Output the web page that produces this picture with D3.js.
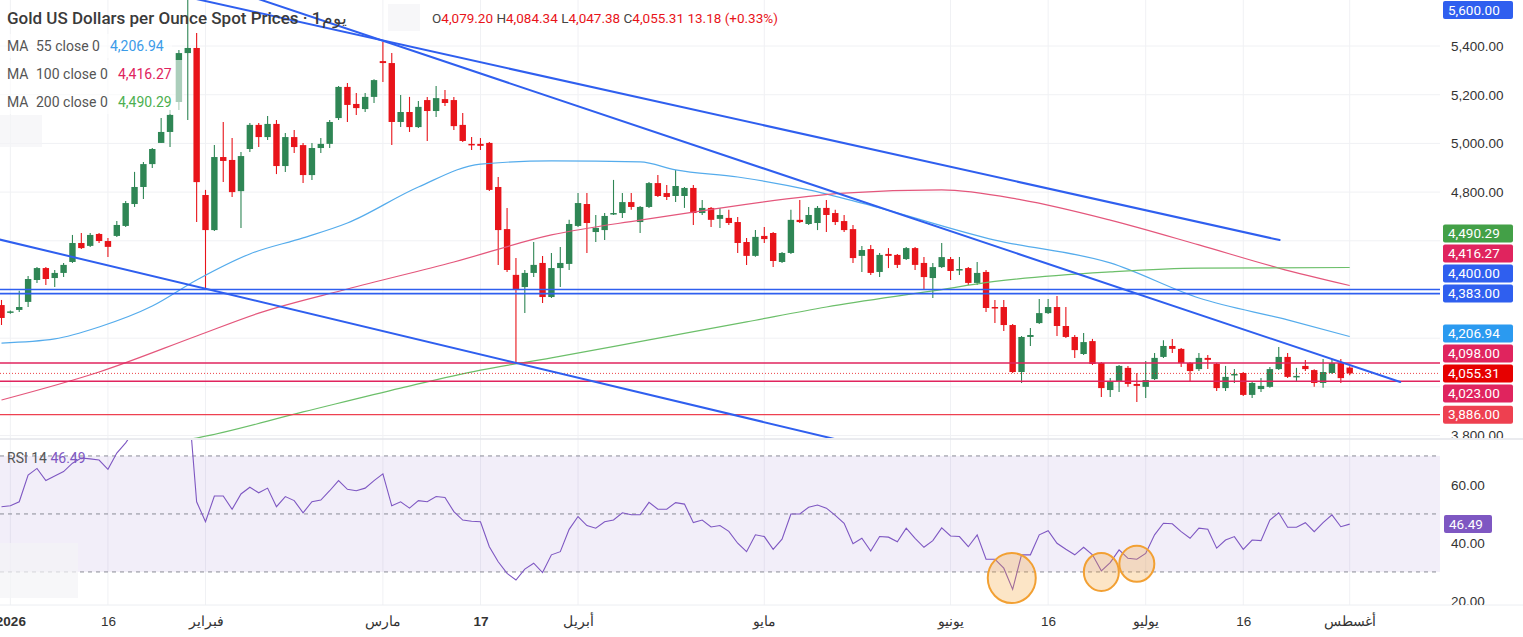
<!DOCTYPE html>
<html>
<head>
<meta charset="utf-8">
<script src="https://cdnjs.cloudflare.com/ajax/libs/d3/7.8.5/d3.min.js"></script>
<style>
  body { margin: 0; background: #ffffff; }
  svg { display: block; font-family: Roboto, "Noto Sans", sans-serif; }
  .axis text { fill: #333; font-size: 13.5px; }
  .axis path { display: none; }
</style>
</head>
<body>
<div id="chart"></div>
<script>
// daily candles, first bar = last trading day of 2025
var opens = [4336,4306,4316,4349,4439,4488,4447,4468,4513,4591,4579,4628,4599,4620,4661,4751,4821,4915,5002,5047,
  5170,5371,5392,4788,4644,4944,4932,4804,4977,5076,5026,5080,4907,5026,4993,4870,4981,4998,5104,5232,
  5162,5141,5191,5338,5330,5088,5129,5067,5178,5133,5182,5178,5076,4998,4998,5002,4821,4648,4460,4410,
  4468,4509,4369,4488,4505,4661,4751,4636,4644,4710,4714,4759,4677,4739,4837,4796,4784,4784,4817,4714,
  4735,4690,4694,4677,4595,4538,4620,4632,4513,4550,4686,4669,4673,4735,4714,4681,4648,4538,4566,4472,
  4546,4542,4525,4570,4509,4447,4492,4525,4480,4488,4427,4472,4328,4328,4254,4061,4205,4262,4303,4328,
  4250,4205,4135,4188,4098,3987,4020,4078,4012,4000,4032,4123,4168,4156,4098,4073,4119,4094,3995,4049,
  4057,3967,3991,4000,4073,4123,4041,4086,4069,4016,4057,4098,4079.20];
var highs = [4357,4314,4395,4455,4492,4492,4480,4509,4624,4632,4632,4632,4611,4681,4763,4883,4924,4981,5104,5137,
  5384,5598,5453,4809,4993,5088,5022,4965,5084,5084,5113,5096,5043,5055,5002,5002,5022,5096,5236,5248,
  5207,5207,5264,5416,5371,5199,5191,5174,5191,5236,5219,5191,5125,5026,5022,5006,4862,4735,4529,4480,
  4595,4538,4550,4575,4686,4796,4796,4706,4714,4850,4796,4796,4743,4841,4870,4829,4891,4821,4829,4768,
  4739,4735,4727,4698,4611,4644,4657,4636,4554,4727,4768,4739,4743,4768,4727,4706,4665,4579,4583,4550,
  4570,4546,4575,4575,4533,4509,4591,4533,4533,4492,4513,4480,4357,4357,4258,4209,4242,4361,4361,4373,
  4328,4213,4221,4197,4102,4036,4090,4086,4057,4106,4139,4192,4197,4160,4102,4139,4131,4098,4086,4073,
  4061,4020,4036,4082,4164,4139,4078,4110,4072,4114,4114,4114,4084.34];
var lows = [4254,4300,4308,4328,4427,4418,4410,4451,4509,4566,4575,4591,4533,4616,4657,4739,4772,4899,5002,4985,
  5137,5096,4677,4398,4640,4841,4780,4653,4965,4985,5014,4874,4883,4961,4837,4850,4961,4981,5096,5088,
  5117,5129,5166,5252,4993,5067,5047,5063,5010,5108,5154,5055,5006,4973,4973,4805,4501,4472,4098,4303,
  4451,4344,4365,4410,4480,4657,4550,4595,4603,4706,4694,4727,4632,4735,4780,4768,4759,4735,4665,4706,
  4657,4653,4665,4550,4501,4534,4591,4492,4509,4546,4673,4665,4644,4636,4665,4636,4509,4472,4460,4451,
  4488,4488,4521,4480,4402,4365,4488,4439,4460,4418,4418,4308,4262,4229,4057,4016,4168,4258,4299,4209,
  4201,4119,4131,4090,3958,3958,3979,4000,3938,3954,4028,4119,4139,4082,4020,4065,4073,3983,3983,4016,
  3963,3954,3979,3996,4069,4036,4020,4065,4000,3996,4053,4016,4047.38];
var closes = [4283,4310,4328,4443,4488,4443,4468,4501,4591,4570,4624,4599,4575,4665,4755,4821,4915,4977,5047,5117,
  5371,5392,4841,4644,4944,4928,4800,4948,5076,5026,5080,4907,5026,4985,4870,4981,4998,5088,5232,5158,
  5145,5191,5260,5330,5088,5129,5067,5150,5133,5186,5166,5071,5010,4994,4990,4809,4644,4480,4398,4468,
  4501,4369,4488,4509,4669,4755,4673,4653,4702,4714,4759,4739,4739,4837,4784,4780,4825,4817,4714,4735,
  4686,4706,4673,4591,4538,4616,4607,4517,4550,4686,4677,4706,4735,4706,4677,4644,4529,4562,4468,4542,
  4538,4501,4570,4501,4451,4492,4533,4476,4484,4427,4468,4324,4324,4254,4061,4205,4213,4303,4328,4250,
  4205,4151,4184,4094,3995,4020,4086,4012,4004,4028,4119,4168,4156,4098,4065,4119,4111,3995,4041,4053,
  3967,4016,4004,4073,4123,4041,4045,4073,4016,4061,4098,4036,4055.31];

// RSI 14 per bar (values above the pane are hidden)
var rsi = [52.5,52.8,54.2,63.4,65.7,61.5,63.1,64.6,67.5,69.3,69.0,68.6,65.4,71.0,74.5,79,82,84,88,87,
  91,92,54.2,47.3,56.2,56.2,51.6,56.9,59.2,57.3,58.9,52.5,56.0,54.6,50.4,54.2,54.8,58.0,61.5,58.5,
  58.0,58.9,61.5,63.8,52.8,54.2,52.0,54.6,54.2,56.0,55.7,50.8,47.9,47.5,47.3,38.7,33.5,29.5,27.2,31.0,
  33.0,29.8,35.9,37.0,44.7,49.1,46.0,45.1,47.3,47.9,50.4,49.7,49.7,54.0,51.6,51.6,53.9,53.4,47.0,47.9,
  45.5,46.0,44.0,39.9,37.0,42.8,42.2,37.8,41.3,50.0,50.0,52.3,53.1,52.0,49.5,46.8,39.7,41.6,37.2,42.2,
  42.0,40.4,45.1,41.6,38.5,40.8,45.2,42.4,42.2,38.7,42.8,34.4,34.4,31.3,24.0,35.9,35.9,42.8,44.2,39.9,
  37.8,35.9,38.5,35.9,30.4,33.2,37.6,34.7,34.4,36.4,42.8,46.8,46.6,43.9,41.6,45.1,44.7,38.2,41.0,42.2,
  37.8,41.0,40.8,47.9,50.4,45.4,45.4,47.0,43.9,47.0,49.7,45.6,46.49];

// moving averages, read at some bars
var ma55Idx = [0,6,11,17,22,28,34,39,47,54,62,72,76,83,91,97,112,125,135,145,152];
var ma55 = [4180,4197,4246,4332,4439,4546,4612,4673,4821,4915,4928,4924,4891,4862,4809,4755,4603,4509,4365,4275,4206.94];
var ma100Idx = [0,11,22,29,39,51,62,72,78,95,106,115,125,135,144,152];
var ma100 = [3946,4061,4209,4303,4402,4513,4624,4685,4718,4796,4809,4768,4685,4583,4488,4416.27];
var ma200Idx = [15,22,34,45,54,62,73,84,93,105,112,125,135,152];
var ma200 = [3755,3790,3897,3995,4069,4119,4193,4267,4328,4394,4433,4472,4488,4490.29];

// drawn trendlines: [bar, price] start and end
var trendStartIdx = [20, 28, -1];
var trendStartPrice = [5609, 5605, 4612];
var trendEndIdx = [144.1, 157.7, 100];
var trendEndPrice = [4603, 4020, 3733];

// horizontal levels
var levelValues = [4400, 4383, 4098, 4023, 3886];

// price labels on the right scale
var labelValues = [5600, 4490.29, 4416.27, 4400, 4383, 4206.94, 4098, 4023, 3886];
var lastPrice = 4055.31;
var lastRsi = 46.49;

// price and rsi ticks
var priceTicks = [3800, 4000, 4200, 4400, 4600, 4800, 5000, 5200, 5400, 5600];
var rsiTicks = [20, 40, 60];
var rsiLevels = [70, 50, 30];

// time axis
var tickIdx = [1, 12, 23, 43, 54, 65, 86, 107, 118, 129, 140, 152];
var tickLabels = ["2026", "16", "فبراير", "مارس", "17", "أبريل", "مايو", "يونيو", "16", "يوليو", "16", "أغسطس"];
var boldTicks = ["2026", "17"];

// orange marks on the RSI lows
var circleIdx = [113.9, 124, 128];
var circleRsi = [27.9, 30, 32.8];

// ---------------- layout ----------------
var svgWidth = 1523;
var svgHeight = 637;
var plotRight = 1440;
var priceBottom = 438;
var rsiTop = 440;
var rsiBottom = 605;
var axisX = 1451;

var svg = d3.select("#chart")
  .append("svg")
  .attr("width", svgWidth)
  .attr("height", svgHeight);

svg.append("rect").attr("width", svgWidth).attr("height", svgHeight).attr("fill", "#fff");

var defs = svg.append("defs");
defs.append("clipPath").attr("id", "clipPrice")
  .append("rect").attr("x", 0).attr("y", 0).attr("width", plotRight).attr("height", priceBottom);
defs.append("clipPath").attr("id", "clipRsi")
  .append("rect").attr("x", 0).attr("y", rsiTop).attr("width", plotRight).attr("height", rsiBottom - rsiTop);
defs.append("clipPath").attr("id", "clipPriceAxis")
  .append("rect").attr("x", plotRight).attr("y", 0).attr("width", svgWidth - plotRight).attr("height", priceBottom);
defs.append("clipPath").attr("id", "clipRsiAxis")
  .append("rect").attr("x", plotRight).attr("y", rsiTop).attr("width", svgWidth - plotRight).attr("height", rsiBottom - rsiTop);

var xScale = d3.scaleLinear().domain([0, closes.length - 1]).range([1.5, 1349.7]);
var yPrice = d3.scaleLinear().domain([3790, 5589]).range([priceBottom, 0]);
var yRsi = d3.scaleLinear().domain([18.6, 75.5]).range([rsiBottom, rsiTop]);

// grid
var grid = svg.append("g");
grid.selectAll("line.v")
  .data(tickIdx)
  .enter()
  .append("line")
  .attr("x1", d => xScale(d)).attr("x2", d => xScale(d))
  .attr("y1", 0).attr("y2", rsiBottom)
  .attr("stroke", "#f0f1f4").attr("stroke-width", 1);
grid.selectAll("line.h")
  .data(priceTicks.filter(d => yPrice(d) > 0 && yPrice(d) < priceBottom))
  .enter()
  .append("line")
  .attr("x1", 0).attr("x2", plotRight)
  .attr("y1", d => yPrice(d)).attr("y2", d => yPrice(d))
  .attr("stroke", "#f0f1f4").attr("stroke-width", 1);

// pane separators
svg.append("line").attr("x1", 0).attr("x2", svgWidth).attr("y1", 439).attr("y2", 439)
  .attr("stroke", "#e3e5ea").attr("stroke-width", 1.5);
svg.append("line").attr("x1", 0).attr("x2", svgWidth).attr("y1", rsiBottom).attr("y2", rsiBottom)
  .attr("stroke", "#eceef2").attr("stroke-width", 1);

// ---------------- price pane ----------------
var pricePane = svg.append("g").attr("clip-path", "url(#clipPrice)");

var candles = closes.map(function(c, i) {
  return { i: i, o: opens[i], h: highs[i], l: lows[i], c: c };
});
var upColor = "#2f8655";
var downColor = "#e8141a";

var candleGroup = pricePane.append("g");
candleGroup.selectAll("line")
  .data(candles)
  .enter()
  .append("line")
  .attr("x1", d => xScale(d.i)).attr("x2", d => xScale(d.i))
  .attr("y1", d => yPrice(d.h)).attr("y2", d => yPrice(d.l))
  .attr("stroke", d => d.c >= d.o ? upColor : downColor)
  .attr("stroke-width", 1.1);
candleGroup.selectAll("rect")
  .data(candles)
  .enter()
  .append("rect")
  .attr("x", d => xScale(d.i) - 3.2)
  .attr("width", 6.4)
  .attr("y", d => yPrice(Math.max(d.o, d.c)))
  .attr("height", d => Math.max(1.5, Math.abs(yPrice(d.o) - yPrice(d.c))))
  .attr("fill", d => d.c >= d.o ? upColor : downColor);

// moving averages
function maLine(idx, vals, color) {
  var pts = idx.map((d, k) => [d, vals[k]]);
  pricePane.append("path")
    .datum(pts)
    .attr("fill", "none")
    .attr("stroke", color)
    .attr("stroke-width", 1.2)
    .attr("d", d3.line().x(d => xScale(d[0])).y(d => yPrice(d[1])).curve(d3.curveMonotoneX));
}
maLine(ma55Idx, ma55, "#55acec");
maLine(ma100Idx, ma100, "#e4577c");
maLine(ma200Idx, ma200, "#6cbf6a");

// horizontal levels
var levelColors = ["#2f5fef", "#2f5fef", "#e0245e", "#e0245e", "#ee4050"];
var levelWidths = [1.6, 1.6, 1.6, 1.6, 1.2];
pricePane.selectAll("line.level")
  .data(levelValues)
  .enter()
  .append("line")
  .attr("x1", 0).attr("x2", plotRight)
  .attr("y1", d => yPrice(d)).attr("y2", d => yPrice(d))
  .attr("stroke", (d, i) => levelColors[i])
  .attr("stroke-width", (d, i) => levelWidths[i]);

// last price dotted line
pricePane.append("line")
  .attr("x1", 0).attr("x2", plotRight)
  .attr("y1", yPrice(lastPrice)).attr("y2", yPrice(lastPrice))
  .attr("stroke", "#e8141a").attr("stroke-width", 0.8)
  .attr("stroke-dasharray", "1,2");

// trendlines
pricePane.selectAll("line.trend")
  .data(trendStartIdx)
  .enter()
  .append("line")
  .attr("x1", (d, i) => xScale(d)).attr("y1", (d, i) => yPrice(trendStartPrice[i]))
  .attr("x2", (d, i) => xScale(trendEndIdx[i])).attr("y2", (d, i) => yPrice(trendEndPrice[i]))
  .attr("stroke", "#2f5fef").attr("stroke-width", 2)
  .attr("stroke-linecap", "round");

// ---------------- legend ----------------
svg.append("rect").attr("x", 0).attr("y", 34).attr("width", 172).attr("height", 24)
  .attr("fill", "#fff").attr("opacity", 0.6);
svg.append("rect").attr("x", 0).attr("y", 60).attr("width", 184).attr("height", 54)
  .attr("fill", "#fff").attr("opacity", 0.6);
svg.append("rect").attr("x", 0).attr("y", 115).attr("width", 42).attr("height", 32)
  .attr("fill", "#f3f4f6").attr("opacity", 0.7);
svg.append("rect").attr("x", 388).attr("y", 4).attr("width", 32).attr("height", 27)
  .attr("fill", "#f3f4f6").attr("opacity", 0.7);

svg.append("text")
  .attr("x", 7).attr("y", 24)
  .attr("font-size", "17px").attr("font-weight", 500).attr("fill", "#3a3a3a")
  .text("Gold US Dollars per Ounce Spot Prices · 1يوم");

var ohlcNames = ["O", "H", "L", "C"];
var ohlcVals = [opens[opens.length - 1], highs[highs.length - 1], lows[lows.length - 1], closes[closes.length - 1]];
var ohlcText = svg.append("text")
  .attr("x", 432).attr("y", 23)
  .attr("font-size", "13.5px");
ohlcNames.forEach(function(n, k) {
  ohlcText.append("tspan").attr("fill", "#444").text((k > 0 ? " " : "") + n);
  ohlcText.append("tspan").attr("fill", "#e8141a").text(d3.format(",.2f")(ohlcVals[k]));
});
ohlcText.append("tspan").attr("fill", "#e8141a").text(" 13.18 (+0.33%)");

var maLegend = [["55", d3.format(",.2f")(ma55[ma55.length - 1]), "#3b9be8", 110],
  ["100", d3.format(",.2f")(ma100[ma100.length - 1]), "#e0245e", 118],
  ["200", d3.format(",.2f")(ma200[ma200.length - 1]), "#4caf50", 118]];
maLegend.forEach(function(m, k) {
  var yy = 51 + k * 28;
  svg.append("text").attr("x", 7).attr("y", yy).attr("font-size", "14px").attr("fill", "#555").text("MA");
  svg.append("text").attr("x", 36).attr("y", yy).attr("font-size", "14px").attr("fill", "#555").text(m[0] + " close 0");
  svg.append("text").attr("x", m[3]).attr("y", yy).attr("font-size", "14px").attr("fill", m[2]).text(m[1]);
});

// ---------------- RSI pane ----------------
var rsiPane = svg.append("g").attr("clip-path", "url(#clipRsi)");
rsiPane.append("rect")
  .attr("x", 0).attr("width", plotRight)
  .attr("y", yRsi(70)).attr("height", yRsi(30) - yRsi(70))
  .attr("fill", "#7e57c2").attr("opacity", 0.1);
rsiPane.selectAll("line.lvl")
  .data(rsiLevels)
  .enter()
  .append("line")
  .attr("x1", 0).attr("x2", plotRight)
  .attr("y1", d => yRsi(d)).attr("y2", d => yRsi(d))
  .attr("stroke", "#8a8c96").attr("stroke-width", 1)
  .attr("stroke-dasharray", "4,4");
rsiPane.append("rect").attr("x", 0).attr("y", 543).attr("width", 78).attr("height", 55)
  .attr("fill", "#f4f4f6").attr("opacity", 0.7);
rsiPane.append("path")
  .datum(rsi)
  .attr("fill", "none")
  .attr("stroke", "#7e57c2")
  .attr("stroke-width", 1.1)
  .attr("d", d3.line().x((d, i) => xScale(i)).y(d => yRsi(d)));

var circleRadii = [[24, 25], [17.5, 19], [17.5, 18]];
rsiPane.selectAll("ellipse")
  .data(circleIdx)
  .enter()
  .append("ellipse")
  .attr("cx", d => xScale(d))
  .attr("cy", (d, i) => yRsi(circleRsi[i]))
  .attr("rx", (d, i) => circleRadii[i][0])
  .attr("ry", (d, i) => circleRadii[i][1])
  .attr("fill", "rgba(245,160,50,0.28)")
  .attr("stroke", "#f2a033")
  .attr("stroke-width", 2);

var rsiLegend = svg.append("text").attr("x", 7).attr("y", 463).attr("font-size", "14px");
rsiLegend.append("tspan").attr("fill", "#555").text("RSI 14 ");
rsiLegend.append("tspan").attr("fill", "#7e57c2").text(d3.format(".2f")(lastRsi));

// ---------------- axes ----------------
var bottomAxis = d3.axisBottom(xScale)
  .tickValues(tickIdx)
  .tickFormat((d, i) => tickLabels[i])
  .tickSize(0)
  .tickPadding(10);
var xAxis = svg.append("g")
  .classed("axis", true)
  .attr("transform", `translate(0, ${rsiBottom + 1})`)
  .call(bottomAxis);
xAxis.selectAll("text")
  .attr("font-weight", d => boldTicks.indexOf(tickLabels[tickIdx.indexOf(d)]) >= 0 ? 700 : 400);

// right price labels with stacking around the last price
var labelH = 20;
var labelColors = ["#2f5fef", "#43a047", "#e0245e", "#2f5fef", "#2f5fef", "#2b9af0", "#e0245e", "#e0245e", "#ee4050"];
var labels = labelValues.map(function(v, k) {
  return { v: v, color: labelColors[k], ty: yPrice(v) };
});
var lastY = yPrice(lastPrice);
var above = labels.filter(d => d.ty < lastY).sort((a, b) => b.ty - a.ty);
var below = labels.filter(d => d.ty >= lastY).sort((a, b) => a.ty - b.ty);
var prev = lastY;
above.forEach(function(d) { d.yy = Math.min(d.ty, prev - labelH); prev = d.yy; });
prev = lastY;
below.forEach(function(d) { d.yy = Math.max(d.ty, prev + labelH); prev = d.yy; });
labels.forEach(function(d) { d.yy = Math.max(d.yy, 10); });
labels.push({ v: lastPrice, color: "#e60000", yy: lastY });

// plain price scale, clipped in screen space by an outer group
var rightAxis = d3.axisRight(yPrice)
  .tickValues(priceTicks.filter(t => labels.every(d => Math.abs(yPrice(t) - d.yy) > 13)))
  .tickFormat(d3.format(",.2f"))
  .tickSize(0)
  .tickPadding(0);
svg.append("g")
  .attr("clip-path", "url(#clipPriceAxis)")
  .append("g")
  .classed("axis", true)
  .attr("transform", `translate(${axisX}, 0)`)
  .call(rightAxis);

var labelGroup = svg.append("g");
labelGroup.selectAll("rect")
  .data(labels)
  .enter()
  .append("rect")
  .attr("x", 1443).attr("width", 70)
  .attr("y", d => d.yy - 9).attr("height", 18)
  .attr("rx", 2)
  .attr("fill", d => d.color);
labelGroup.selectAll("text")
  .data(labels)
  .enter()
  .append("text")
  .attr("x", 1448).attr("y", d => d.yy)
  .attr("dy", "0.35em")
  .attr("font-size", "13.5px")
  .attr("fill", "#fff")
  .text(d => d3.format(",.2f")(d.v));

// rsi scale
var rsiAxis = d3.axisRight(yRsi)
  .tickValues(rsiTicks)
  .tickFormat(d3.format(".2f"))
  .tickSize(0)
  .tickPadding(0);
svg.append("g")
  .attr("clip-path", "url(#clipRsiAxis)")
  .append("g")
  .classed("axis", true)
  .attr("transform", `translate(${axisX}, 0)`)
  .call(rsiAxis);
svg.append("rect")
  .attr("x", 1444).attr("width", 48)
  .attr("y", yRsi(lastRsi) - 9).attr("height", 18)
  .attr("rx", 2)
  .attr("fill", "#7e57c2");
svg.append("text")
  .attr("x", 1449).attr("y", yRsi(lastRsi))
  .attr("dy", "0.35em")
  .attr("font-size", "13.5px")
  .attr("fill", "#fff")
  .text(d3.format(".2f")(lastRsi));
</script>
</body>
</html>
